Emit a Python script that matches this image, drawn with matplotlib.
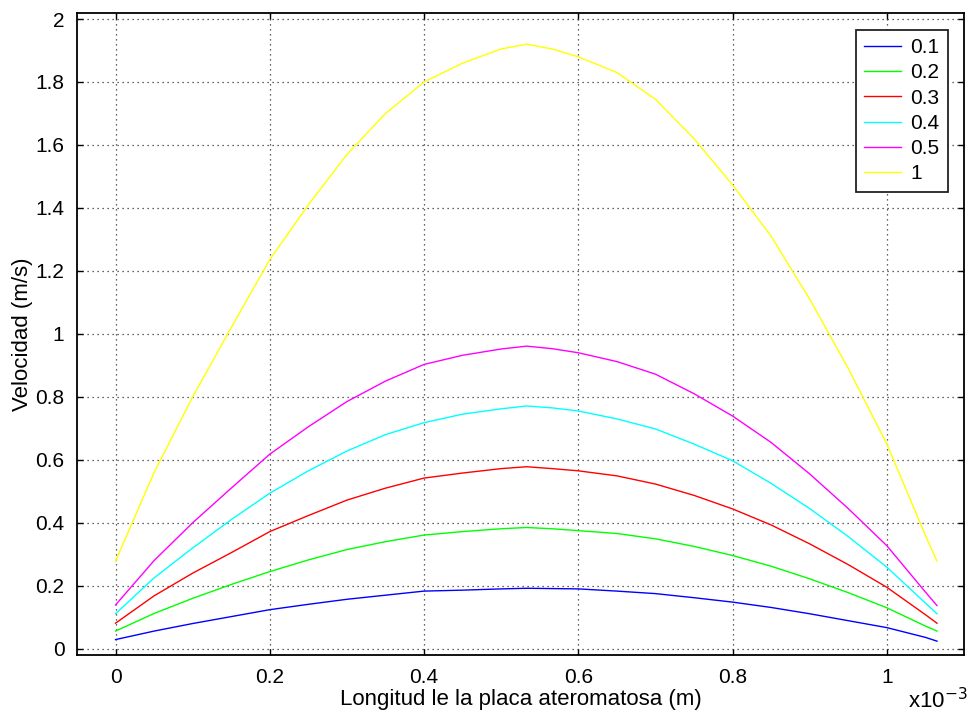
import numpy as np
import matplotlib
matplotlib.use("Agg")
import matplotlib.pyplot as plt
from matplotlib.ticker import FuncFormatter, MultipleLocator

plt.rcParams['font.family'] = ['Liberation Sans', 'DejaVu Sans']

# posicion a lo largo de la placa (m)
x_mm = [0, 0.05, 0.1, 0.15, 0.2, 0.25, 0.3, 0.35, 0.4, 0.45, 0.5, 0.533, 0.566,
        0.6, 0.65, 0.7, 0.75, 0.8, 0.85, 0.9, 0.95, 1.0, 1.05, 1.065]
x = np.array(x_mm) * 1e-3

labels = ['0.1', '0.2', '0.3', '0.4', '0.5', '1']
colores = ['#0000FF', '#00FF00', '#FF0000', '#00FFFF', '#FF00FF', '#FFFF00']

v01 = [0.029, 0.056, 0.080, 0.102, 0.124, 0.141, 0.157, 0.170, 0.183, 0.186, 0.190, 0.192, 0.191,
       0.190, 0.183, 0.175, 0.162, 0.148, 0.131, 0.111, 0.089, 0.067, 0.036, 0.024]
v02 = [0.056, 0.112, 0.160, 0.204, 0.245, 0.282, 0.315, 0.340, 0.361, 0.372, 0.381, 0.385, 0.381,
       0.375, 0.366, 0.349, 0.325, 0.296, 0.262, 0.222, 0.178, 0.130, 0.072, 0.056]
v03 = [0.081, 0.168, 0.240, 0.305, 0.372, 0.423, 0.472, 0.510, 0.542, 0.558, 0.572, 0.578, 0.572,
       0.565, 0.549, 0.523, 0.487, 0.444, 0.393, 0.333, 0.267, 0.195, 0.108, 0.081]
v04 = [0.111, 0.225, 0.320, 0.410, 0.494, 0.565, 0.628, 0.680, 0.718, 0.745, 0.762, 0.771, 0.765,
       0.755, 0.730, 0.698, 0.650, 0.597, 0.525, 0.445, 0.356, 0.259, 0.145, 0.111]
v05 = [0.139, 0.280, 0.400, 0.510, 0.618, 0.705, 0.785, 0.850, 0.903, 0.932, 0.952, 0.961, 0.953,
       0.940, 0.912, 0.872, 0.810, 0.739, 0.655, 0.555, 0.445, 0.327, 0.180, 0.137]
v1 = [0.278, 0.560, 0.800, 1.020, 1.236, 1.410, 1.570, 1.700, 1.800, 1.860, 1.905, 1.920, 1.905,
      1.880, 1.830, 1.745, 1.620, 1.473, 1.310, 1.110, 0.890, 0.650, 0.360, 0.278]

series = [v01, v02, v03, v04, v05, v1]

fig = plt.figure(figsize=(9.67, 7.15), dpi=100, facecolor='w')
ax = fig.add_axes([0.0796, 0.0839, 0.9173, 0.8983])

for v, c, lab in zip(series, colores, labels):
    ax.plot(x, v, color=c, lw=1.0, label=lab)

ax.set_xlim(-0.05e-3, 1.1e-3)
ax.set_ylim(-0.02, 2.02)
ax.xaxis.set_major_locator(MultipleLocator(0.2e-3))
ax.yaxis.set_major_locator(MultipleLocator(0.2))
ax.xaxis.set_major_formatter(FuncFormatter(lambda val, pos: '%g' % round(val * 1e3, 6)))
ax.yaxis.set_major_formatter(FuncFormatter(lambda val, pos: '%g' % round(val, 6)))

ax.grid(True, color='#333333', linestyle=(0, (1, 3)), lw=0.9)
ax.tick_params(direction='in', length=4, width=1, top=True, right=True,
               labelsize=15, pad=9)
for s in ax.spines.values():
    s.set_linewidth(1.3)

ax.set_xlabel('Longitud le la placa ateromatosa (m)', fontsize=16, labelpad=2)
ax.set_ylabel('Velocidad (m/s)', fontsize=16, labelpad=2)
fig.text(0.97, 0.002, r'x10$^{-3}$', fontsize=16, ha='center', va='bottom')

leg = ax.legend(loc='upper right', bbox_to_anchor=(0.9815, 0.9735), fontsize=15,
                fancybox=False, edgecolor='#222222', framealpha=1, handlelength=1.75,
                labelspacing=0.3, borderpad=0.4, handletextpad=0.45, borderaxespad=0)
leg.get_frame().set_linewidth(1.3)

fig.savefig('out.png', dpi=100)
